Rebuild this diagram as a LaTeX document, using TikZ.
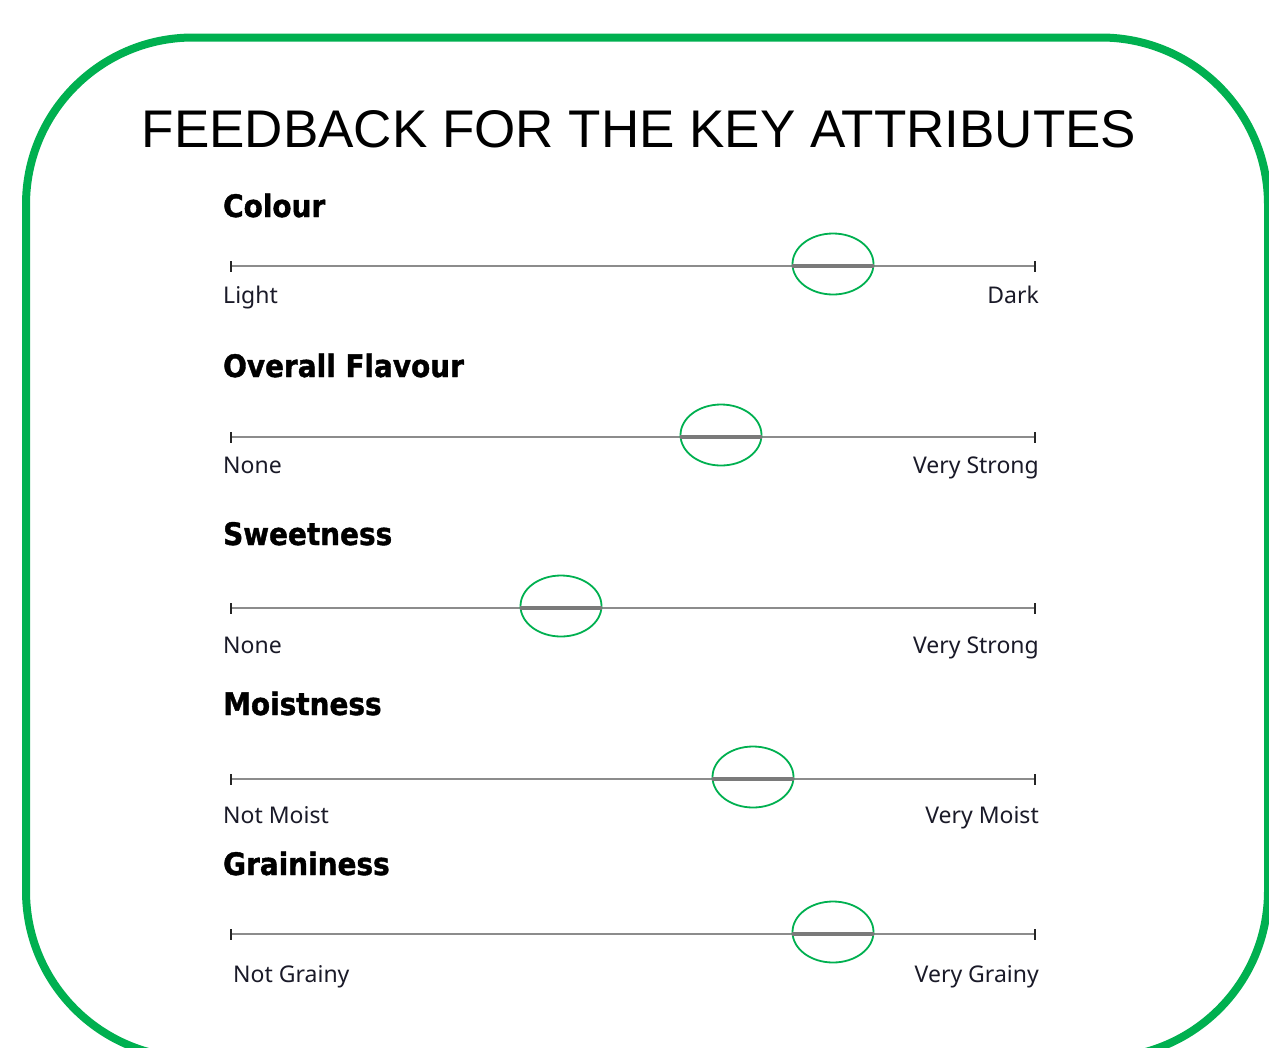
\documentclass[tikz,border=0pt]{standalone}
\usepackage{fontspec}
\usetikzlibrary{shapes.geometric}
\setmainfont{Liberation Sans}
\newfontfamily\headfont{DejaVu Sans Bold}[FakeStretch=0.9, FakeBold=1.2]
\newfontfamily\endfont{Noto Sans}
\definecolor{frameGreen}{HTML}{00B050}
\definecolor{scaleGray}{HTML}{8C8C8C}
\definecolor{markGray}{HTML}{7A7A7A}
\definecolor{labelInk}{HTML}{1A1A28}
\begin{document}
\begin{tikzpicture}[x=1pt,y=-1pt,
  titletext/.style={font=\fontsize{53}{60}\selectfont, anchor=base, inner sep=0pt},
  headtext/.style={font=\headfont\fontsize{31}{36}\selectfont, anchor=base west, inner sep=0pt},
  endtext/.style={font=\endfont\fontsize{23}{27}\selectfont, text=labelInk, inner sep=0pt},
  scaleline/.style={draw=scaleGray, line width=1.6pt},
  tickmark/.style={draw=black!85, line width=2.8pt},
  markring/.style={ellipse, draw=frameGreen, line width=1.8pt, minimum width=81pt, minimum height=61pt, inner sep=0pt},
  markbar/.style={draw=markGray, line width=3.6pt},
]
\useasboundingbox (0,0) rectangle (1269,1047);
\fill[white] (0,0) rectangle (1269,1047);

% outer frame
\draw[frameGreen, line width=8pt, rounded corners=167pt] (26,37.5) rectangle (1268,1058);

% title
\node[titletext] (title) at (639,147) {FEEDBACK FOR THE KEY ATTRIBUTES};

% one rating scale per attribute:
% id / heading / left label / right label / line y / heading y / label y / mark x / left label x
\foreach \id/\head/\lo/\hi/\ly/\hy/\by/\mx/\lx in {
  colour/Colour/Light/Dark/266/217/303/833/223,
  flavour/Overall Flavour/None/Very Strong/437/377/473/721/223,
  sweet/Sweetness/None/Very Strong/608/545/653/561/223,
  moist/Moistness/Not Moist/Very Moist/779/715/823/753/223,
  grain/Graininess/Not Grainy/Very Grainy/934/875/982/833/233}
{
  \node[headtext] (\id-head) at (223,\hy) {\head};
  \coordinate (\id-a) at (231,\ly);
  \coordinate (\id-b) at (1035,\ly);
  \draw[scaleline] (\id-a) -- (\id-b);
  \draw[tickmark] ([yshift=-5.5pt]\id-a) -- ([yshift=5.5pt]\id-a);
  \draw[tickmark] ([yshift=-5.5pt]\id-b) -- ([yshift=5.5pt]\id-b);
  \node[markring] (\id-mark) at (\mx,\ly-2) {};
  \draw[markbar] (\id-mark.west |- \id-a) -- (\id-mark.east |- \id-a);
  \node[endtext, anchor=base west] (\id-lo) at (\lx,\by) {\lo};
  \node[endtext, anchor=base east] (\id-hi) at (1039,\by) {\hi};
}
\end{tikzpicture}
\end{document}
